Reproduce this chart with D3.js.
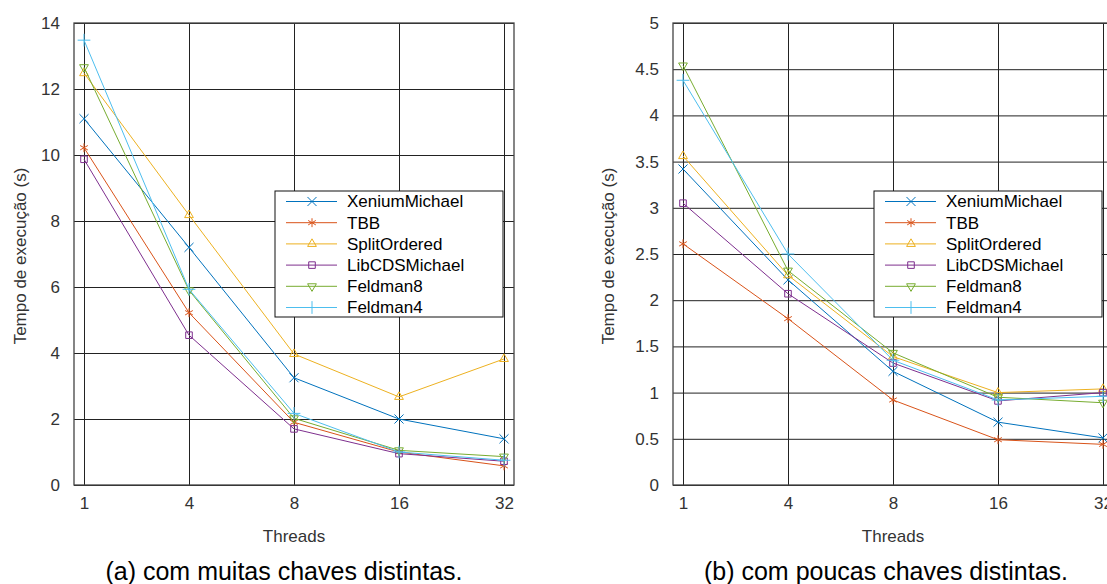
<!DOCTYPE html>
<html>
<head>
<meta charset="utf-8">
<script src="https://cdn.jsdelivr.net/npm/d3@7"></script>
<style>
  body { margin: 0; background: #fff; }
  svg text { font-family: "Liberation Sans", Arial, sans-serif; }
</style>
</head>
<body>
<svg id="chart" width="1107" height="584"></svg>
<script>
// thread counts on the x axis
const threads = ['1', '4', '8', '16', '32'];
const seriesNames = ['XeniumMichael', 'TBB', 'SplitOrdered', 'LibCDSMichael', 'Feldman8', 'Feldman4'];
const seriesColors = ['#0072bd', '#d95319', '#edb120', '#7e2f8e', '#77ac30', '#4dbeee'];

// (a) many distinct keys
const xeniumA = [11.1, 7.2, 3.25, 2.0, 1.4];
const tbbA = [10.22, 5.22, 1.9, 1.0, 0.58];
const splitA = [12.48, 8.18, 3.97, 2.67, 3.82];
const libcdsA = [9.87, 4.54, 1.7, 0.95, 0.72];
const feldman8A = [12.66, 5.9, 2.02, 1.05, 0.86];
const feldman4A = [13.48, 5.93, 2.17, 1.0, 0.75];

// (b) few distinct keys
const xeniumB = [3.42, 2.22, 1.23, 0.68, 0.51];
const tbbB = [2.61, 1.8, 0.92, 0.49, 0.44];
const splitB = [3.56, 2.27, 1.39, 1.0, 1.04];
const libcdsB = [3.05, 2.07, 1.32, 0.91, 1.0];
const feldman8B = [4.54, 2.32, 1.43, 0.95, 0.89];
const feldman4B = [4.38, 2.5, 1.35, 0.92, 0.96];

const yTicksA = [0, 2, 4, 6, 8, 10, 12, 14];
const yTicksB = [0, 0.5, 1, 1.5, 2, 2.5, 3, 3.5, 4, 4.5, 5];

const symbolTypes = [
  {type: d3.symbolTimes, rot: 0},
  {type: d3.symbolAsterisk, rot: 0},
  {type: d3.symbolTriangle2, rot: 0},
  {type: d3.symbolSquare2, rot: 0},
  {type: d3.symbolTriangle2, rot: 180},
  {type: d3.symbolPlus, rot: 0}
];

const svg = d3.select('#chart');

function drawPanel(opts) {
  const left = opts.left, top = 23, w = 440, h = 462;
  const g = svg.append('g');

  const x = d3.scalePoint().domain(threads).range([left + 10, left + w - 10]);
  const y = d3.scaleLinear().domain([0, opts.ymax]).range([top + h, top]);

  // grid
  g.append('g')
    .attr('transform', `translate(${left},0)`)
    .call(d3.axisLeft(y).tickValues(opts.yTicks).tickSize(-w).tickFormat(''))
    .call(s => s.select('.domain').remove())
    .selectAll('line').attr('stroke', '#222').attr('stroke-width', 1);
  g.append('g')
    .attr('transform', `translate(0,${top + h})`)
    .call(d3.axisBottom(x).tickSize(-h).tickFormat(''))
    .call(s => s.select('.domain').remove())
    .selectAll('line').attr('stroke', '#222').attr('stroke-width', 1);

  // tick labels
  g.append('g')
    .attr('transform', `translate(${left - 14},0)`)
    .call(d3.axisLeft(y).tickValues(opts.yTicks).tickSize(0).tickPadding(0).tickFormat(d => String(d)))
    .call(s => s.select('.domain').remove())
    .selectAll('text')
    .attr('font-size', 17).attr('fill', '#333')
    .attr('font-family', '"Liberation Sans", Arial, sans-serif');
  g.append('g')
    .attr('transform', `translate(0,${top + h + 12})`)
    .call(d3.axisBottom(x).tickSize(0).tickPadding(0))
    .call(s => s.select('.domain').remove())
    .selectAll('text')
    .attr('font-size', 17).attr('fill', '#333')
    .attr('font-family', '"Liberation Sans", Arial, sans-serif');

  // border
  g.append('rect')
    .attr('x', left).attr('y', top).attr('width', w).attr('height', h)
    .attr('fill', 'none').attr('stroke', '#444').attr('stroke-width', 1.3);

  // series
  const line = d3.line().x((d, i) => x(threads[i])).y(d => y(d));
  opts.series.forEach((vals, k) => {
    g.append('path')
      .datum(vals)
      .attr('d', line)
      .attr('fill', 'none')
      .attr('stroke', seriesColors[k])
      .attr('stroke-width', 1);
    g.selectAll(null)
      .data(vals)
      .join('path')
      .attr('transform', (d, i) => `translate(${x(threads[i])},${y(d)}) rotate(${symbolTypes[k].rot})`)
      .attr('d', d3.symbol().type(symbolTypes[k].type).size(55))
      .attr('fill', 'none')
      .attr('stroke', seriesColors[k])
      .attr('stroke-width', 1);
  });

  // axis labels
  g.append('text')
    .attr('transform', `translate(${opts.ylabelX},${top + h / 2 + 2}) rotate(-90)`)
    .attr('text-anchor', 'middle')
    .attr('dy', '0.35em')
    .attr('font-size', 17).attr('fill', '#333')
    .text('Tempo de execução (s)');
  g.append('text')
    .attr('x', left + w / 2).attr('y', 542)
    .attr('text-anchor', 'middle')
    .attr('font-size', 17).attr('fill', '#333')
    .text('Threads');
  g.append('text')
    .attr('x', opts.captionX).attr('y', 580)
    .attr('text-anchor', 'middle')
    .attr('font-size', 25).attr('fill', '#000')
    .text(opts.caption);

  // legend
  const lx = left + 201, ly = 191;
  const lg = g.append('g').attr('transform', `translate(${lx},${ly})`);
  lg.append('rect')
    .attr('width', 228).attr('height', 126)
    .attr('fill', '#fff').attr('stroke', '#111').attr('stroke-width', 1);
  seriesNames.forEach((name, k) => {
    const ry = 10.5 + k * 21.2;
    lg.append('line')
      .attr('x1', 11).attr('x2', 62).attr('y1', ry).attr('y2', ry)
      .attr('stroke', seriesColors[k]).attr('stroke-width', 1);
    lg.append('path')
      .attr('transform', `translate(37,${ry}) rotate(${symbolTypes[k].rot})`)
      .attr('d', d3.symbol().type(symbolTypes[k].type).size(55))
      .attr('fill', 'none').attr('stroke', seriesColors[k]).attr('stroke-width', 1);
    lg.append('text')
      .attr('x', 72).attr('y', ry).attr('dy', '0.35em')
      .attr('font-size', 17).attr('fill', '#000')
      .text(name);
  });
}

drawPanel({
  left: 74, ymax: 14, yTicks: yTicksA, ylabelX: 20, captionX: 284,
  caption: '(a) com muitas chaves distintas.',
  series: [xeniumA, tbbA, splitA, libcdsA, feldman8A, feldman4A]
});
drawPanel({
  left: 673, ymax: 5, yTicks: yTicksB, ylabelX: 608, captionX: 886,
  caption: '(b) com poucas chaves distintas.',
  series: [xeniumB, tbbB, splitB, libcdsB, feldman8B, feldman4B]
});
</script>
</body>
</html>
